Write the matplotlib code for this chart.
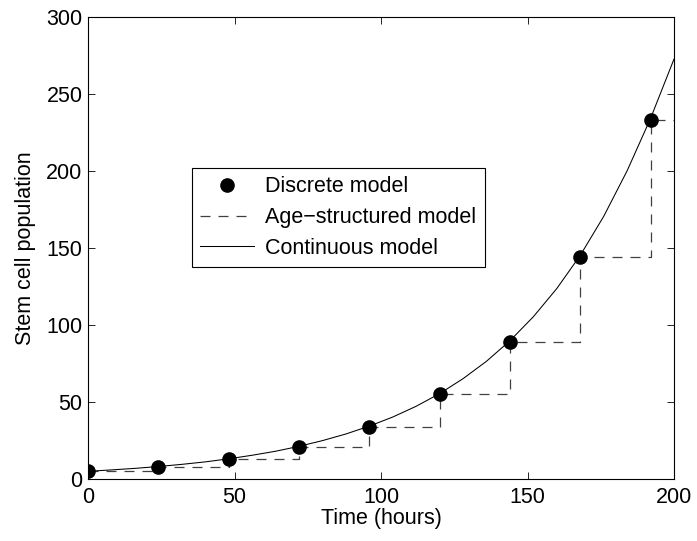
import matplotlib
matplotlib.use("Agg")
import matplotlib.pyplot as plt

plt.rcParams['font.family'] = ['Liberation Sans', 'DejaVu Sans']

# Discrete model (every 24 h)
t_disc = [0, 24, 48, 72, 96, 120, 144, 168, 192]
n_disc = [5, 8, 13, 21, 34, 55, 89, 144, 233]

# Age-structured model (step function, held until next division)
t_age = [0, 24, 48, 72, 96, 120, 144, 168, 192, 200]
n_age = [5, 8, 13, 21, 34, 55, 89, 144, 233, 233]

# Continuous model
t_cont = [0, 8, 16, 24, 32, 40, 48, 56, 64, 72, 80, 88, 96, 104, 112,
          120, 128, 136, 144, 152, 160, 168, 176, 184, 192, 200]
n_cont = [5.0, 5.9, 6.9, 8.1, 9.5, 11.1, 13.1, 15.4, 18.0, 21.2, 24.9,
          29.2, 34.3, 40.2, 47.2, 55.4, 65.1, 76.4, 89.7, 105.3, 123.6,
          145.1, 170.4, 200.0, 234.0, 272.5]

FS = 15.5

fig = plt.figure(figsize=(6.97, 5.41), dpi=100)
ax = fig.add_axes([88/697, 1-479/541, (674-88)/697, (479-16.7)/541])

ax.plot(t_disc, n_disc, 'o', color='black', markersize=9.5, label='Discrete model', zorder=3)
ax.step(t_age, n_age, where='post', color='0.25', linestyle=(0, (8, 6.4)), linewidth=0.9,
        label='Age\u2212structured model')
ax.plot(t_cont, n_cont, '-', color='black', linewidth=0.75, label='Continuous model')

ax.set_xlim(0, 200)
ax.set_ylim(0, 300)
ax.set_xticks([0, 50, 100, 150, 200])
ax.set_yticks([0, 50, 100, 150, 200, 250, 300])
ax.tick_params(direction='in', top=True, right=True, labelsize=FS, length=5, width=0.6)
ax.tick_params(axis='x', pad=6)
ax.tick_params(axis='y', pad=4)
for s in ax.spines.values():
    s.set_linewidth(0.8)
ax.set_xlabel('Time (hours)', fontsize=FS, labelpad=0)
ax.set_ylabel('Stem cell population', fontsize=FS, labelpad=7)

leg = ax.legend(loc='upper left', bbox_to_anchor=(0.177, 0.673), fontsize=FS,
                fancybox=False, edgecolor='black', framealpha=1,
                borderpad=0.4, labelspacing=0.45, handlelength=2.5, handletextpad=0.5,
                borderaxespad=0)
leg.get_frame().set_linewidth(0.8)

fig.savefig('out.png', dpi=100)
